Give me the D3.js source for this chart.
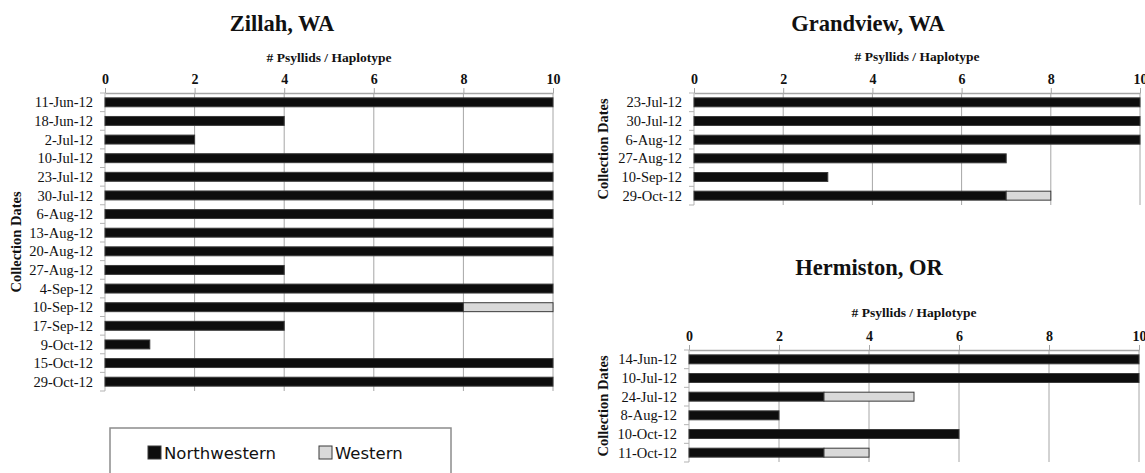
<!DOCTYPE html>
<html>
<head>
<meta charset="utf-8">
<script src="https://cdn.jsdelivr.net/npm/d3@7"></script>
<style>
    body { margin: 0; background: #fff; }
</style>
</head>
<body>
<svg id="drawing_region"></svg>
<script>
const xTicks = [0, 2, 4, 6, 8, 10];
const seriesNames = ['Northwestern', 'Western'];
const seriesColors = ['#0d0d0d', '#d9d9d9'];

const zillahDates = ['11-Jun-12', '18-Jun-12', '2-Jul-12', '10-Jul-12', '23-Jul-12', '30-Jul-12',
    '6-Aug-12', '13-Aug-12', '20-Aug-12', '27-Aug-12', '4-Sep-12', '10-Sep-12',
    '17-Sep-12', '9-Oct-12', '15-Oct-12', '29-Oct-12'];
const zillahNW = [10, 4, 2, 10, 10, 10, 10, 10, 10, 4, 10, 8, 4, 1, 10, 10];
const zillahW  = [0, 0, 0, 0, 0, 0, 0, 0, 0, 0, 0, 2, 0, 0, 0, 0];

const grandviewDates = ['23-Jul-12', '30-Jul-12', '6-Aug-12', '27-Aug-12', '10-Sep-12', '29-Oct-12'];
const grandviewNW = [10, 10, 10, 7, 3, 7];
const grandviewW  = [0, 0, 0, 0, 0, 1];

const hermistonDates = ['14-Jun-12', '10-Jul-12', '24-Jul-12', '8-Aug-12', '10-Oct-12', '11-Oct-12'];
const hermistonNW = [10, 10, 3, 2, 6, 3];
const hermistonW  = [0, 0, 2, 0, 0, 1];

const svg = d3.select('#drawing_region')
    .attr('width', 1145)
    .attr('height', 473);

class HaplotypeChart {

    constructor( config, dates, nw, w ) {
        this.config = config;
        this.data = dates.map( (d, i) => ({ label: d, Northwestern: nw[i], Western: w[i] }) );
        this.init();
    }

    init() {
        let self = this;
        let c = self.config;

        self.chart = svg.append('g')
            .attr('transform', `translate(${c.left}, ${c.top})`);

        self.xscale = d3.scaleLinear()
            .domain([0, 10])
            .range([0, c.width]);

        self.yscale = d3.scaleBand()
            .domain(self.data.map(d => d.label))
            .range([0, c.height])
            .paddingInner(0.52)
            .paddingOuter(0.26);

        self.xaxis = d3.axisTop(self.xscale)
            .tickValues(xTicks)
            .tickSize(5)
            .tickPadding(4)
            .tickSizeOuter(0);
    }

    render() {
        let self = this;
        let c = self.config;
        let step = c.height / self.data.length;

        // grid lines
        self.chart.selectAll('.grid')
            .data(xTicks.filter(d => d > 0))
            .join('line')
            .attr('x1', d => self.xscale(d))
            .attr('x2', d => self.xscale(d))
            .attr('y1', 0)
            .attr('y2', c.height)
            .attr('stroke', '#a6a6a6')
            .attr('stroke-width', 1);

        // left axis line + boundary ticks
        self.chart.append('line')
            .attr('x1', 0).attr('x2', 0)
            .attr('y1', 0).attr('y2', c.height)
            .attr('stroke', '#b3b3b3');

        self.chart.selectAll('.ytick')
            .data(d3.range(self.data.length + 1))
            .join('line')
            .attr('x1', -5).attr('x2', 0)
            .attr('y1', i => i * step).attr('y2', i => i * step)
            .attr('stroke', '#b3b3b3');

        // category labels
        self.chart.selectAll('.ylabel')
            .data(self.data)
            .join('text')
            .attr('x', -12)
            .attr('y', d => self.yscale(d.label) + self.yscale.bandwidth() / 2)
            .attr('dy', '0.35em')
            .attr('text-anchor', 'end')
            .attr('font-family', '"Liberation Serif", serif')
            .attr('font-size', '14.5px')
            .attr('fill', '#111')
            .text(d => d.label);

        // stacked bars
        let stack = d3.stack().keys(seriesNames)(self.data);
        self.chart.selectAll('.series')
            .data(stack)
            .join('g')
            .attr('fill', (d, i) => seriesColors[i])
            .attr('stroke', '#3a3a3a')
            .attr('stroke-width', 1)
            .selectAll('rect')
            .data(d => d.filter(p => p[1] > p[0]))
            .join('rect')
            .attr('x', d => self.xscale(d[0]))
            .attr('y', d => self.yscale(d.data.label))
            .attr('width', d => self.xscale(d[1]) - self.xscale(d[0]))
            .attr('height', self.yscale.bandwidth());

        // top axis
        let axis = self.chart.append('g').call(self.xaxis);
        axis.select('.domain').attr('stroke', '#a6a6a6').attr('stroke-width', 1.5);
        axis.selectAll('.tick line').attr('stroke', '#a6a6a6');
        axis.selectAll('.tick text')
            .attr('font-family', '"Liberation Serif", serif')
            .attr('font-weight', 'bold')
            .attr('font-size', '14px')
            .attr('fill', '#111');

        // title
        svg.append('text')
            .attr('x', c.titleX)
            .attr('y', c.titleY)
            .attr('dy', '0.35em')
            .attr('text-anchor', 'middle')
            .attr('font-family', '"Liberation Serif", serif')
            .attr('font-weight', 'bold')
            .attr('font-size', '22.5px')
            .attr('fill', '#111')
            .text(c.title);

        // x label
        svg.append('text')
            .attr('x', c.left + c.width / 2)
            .attr('y', c.xlabelY)
            .attr('dy', '0.35em')
            .attr('text-anchor', 'middle')
            .attr('font-family', '"Liberation Serif", serif')
            .attr('font-weight', 'bold')
            .attr('font-size', '13.5px')
            .attr('fill', '#111')
            .text('# Psyllids / Haplotype');

        // y label
        svg.append('text')
            .attr('transform', `translate(${c.ylabelX}, ${c.top + c.height / 2}) rotate(-90)`)
            .attr('dy', '0.35em')
            .attr('text-anchor', 'middle')
            .attr('font-family', '"Liberation Serif", serif')
            .attr('font-weight', 'bold')
            .attr('font-size', '14.5px')
            .attr('fill', '#111')
            .text('Collection Dates');
    }
}

new HaplotypeChart({
    title: 'Zillah, WA', titleX: 282, titleY: 23, xlabelY: 57, ylabelX: 16,
    left: 105, top: 93, width: 448, height: 298
}, zillahDates, zillahNW, zillahW).render();

new HaplotypeChart({
    title: 'Grandview, WA', titleX: 868, titleY: 23, xlabelY: 56, ylabelX: 603,
    left: 694, top: 93, width: 446, height: 112
}, grandviewDates, grandviewNW, grandviewW).render();

new HaplotypeChart({
    title: 'Hermiston, OR', titleX: 869, titleY: 267, xlabelY: 312, ylabelX: 603,
    left: 689, top: 350, width: 450, height: 112
}, hermistonDates, hermistonNW, hermistonW).render();

// legend
let legend = svg.append('g').attr('transform', 'translate(110, 428)');
legend.append('rect')
    .attr('width', 341).attr('height', 60)
    .attr('fill', '#fff')
    .attr('stroke', '#8c8c8c')
    .attr('stroke-width', 1.5);

let legendX = [38, 209];
let items = legend.selectAll('.item')
    .data(seriesNames)
    .join('g')
    .attr('transform', (d, i) => `translate(${legendX[i]}, 18)`);
items.append('rect')
    .attr('width', 13).attr('height', 13)
    .attr('fill', (d, i) => seriesColors[i])
    .attr('stroke', '#3a3a3a');
items.append('text')
    .attr('x', 16)
    .attr('y', 13)
    .attr('font-family', '"DejaVu Sans", sans-serif')
    .attr('font-size', '16.5px')
    .attr('fill', '#111')
    .text(d => d);
</script>
</body>
</html>
